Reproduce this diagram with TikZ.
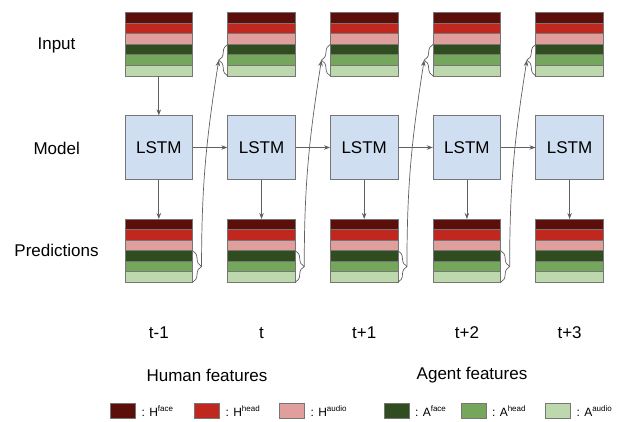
\documentclass[tikz,border=0pt]{standalone}
\usepackage{fontspec}
\setmainfont{Liberation Sans}
\usepackage{xcolor}
\usetikzlibrary{positioning, decorations.pathreplacing, arrows.meta}
\definecolor{hface}{HTML}{5C0F0A}
\definecolor{hhead}{HTML}{C0281F}
\definecolor{haudio}{HTML}{E09E9C}
\definecolor{aface}{HTML}{2F4D1E}
\definecolor{ahead}{HTML}{74A65B}
\definecolor{aaudio}{HTML}{BDD8AC}
\definecolor{lstmblue}{HTML}{CFDEF0}
\definecolor{edgegray}{HTML}{767676}
\definecolor{arrowgray}{HTML}{606060}

\begin{document}
\begin{tikzpicture}[x=1pt, y=1pt, font=\fontsize{17}{20}\selectfont,
    band/.style = {draw=edgegray, line width=0.8pt, minimum width=67.5pt, minimum height=10.55pt, inner sep=0pt, outer sep=0pt},
    lstm/.style = {draw=edgegray, fill=lstmblue, line width=0.8pt, minimum width=67.5pt, minimum height=63.5pt, inner sep=0pt},
    flow/.style = {draw=arrowgray, line width=0.7pt, -{Stealth[length=6pt, width=4.5pt]}},
    brc/.style = {draw=arrowgray, line width=0.7pt, decorate, decoration={brace, amplitude=9pt}},
    key/.style = {draw=edgegray, line width=0.6pt, minimum width=25pt, minimum height=15pt, inner sep=0pt},
    keytext/.style = {font=\fontsize{12}{14}\selectfont, inner sep=0pt}]
    \useasboundingbox (0,0) rectangle (620,421);

    % row labels
    \node (input) at (56.5,376) {Input};
    \node (model) at (56.7,273) {Model};
    \node (preds) at (56.5,171) {Predictions};

    % one column per time step
    \foreach \i/\x/\t in {1/158.8/t-1, 2/261.5/t, 3/364.2/t+1, 4/466.9/t+2, 5/569.6/t+3} {
        \foreach \c [count=\k] in {hface, hhead, haudio, aface, ahead, aaudio} {
            \node [band, fill=\c] (in\i-\k) at (\x, 413.575-10.55*\k) {};
            \node [band, fill=\c] (pr\i-\k) at (\x, 207.275-10.55*\k) {};
        }
        \node [lstm] (m\i) at (\x, 273.5) {LSTM};
        \node (time\i) at (\x, 88) {\t};
        \draw [flow] (m\i) -- (pr\i-1);
    }
    \draw [flow] (in1-6) -- (m1);
    \foreach \i [evaluate=\i as \j using int(\i+1)] in {1,...,4} {
        \draw [flow] (m\i) -- (m\j);
        \draw [brc] (pr\i-4.north east) -- (pr\i-6.south east);
        \draw [brc] (in\j-6.south west) -- (in\j-4.north west);
        \coordinate (pb\i) at ([xshift=9pt]pr\i-5.east);
        \coordinate (ib\j) at ([xshift=-9pt]in\j-5.west);
        \draw [flow] (pb\i) to[out=90, in=261] (ib\j);
    }

    % legend
    \node (human) at (207,46) {Human features};
    \node (agent) at (472,46) {Agent features};
    \node [key, fill=hface] (k1) at (123,10) {};
    \node [key, fill=hhead] (k2) at (207,10) {};
    \node [key, fill=haudio] (k3) at (292,10) {};
    \node [key, fill=aface] (k4) at (396.5,10) {};
    \node [key, fill=ahead] (k5) at (473.5,10) {};
    \node [key, fill=aaudio] (k6) at (558,10) {};
    \node [keytext, right=5.5pt of k1] (kt1) {: H\textsuperscript{face}};
    \node [keytext, right=5.5pt of k2] (kt2) {: H\textsuperscript{head}};
    \node [keytext, right=5.5pt of k3] (kt3) {: H\textsuperscript{audio}};
    \node [keytext, right=5.5pt of k4] (kt4) {: A\textsuperscript{face}};
    \node [keytext, right=5.5pt of k5] (kt5) {: A\textsuperscript{head}};
    \node [keytext, right=5.5pt of k6] (kt6) {: A\textsuperscript{audio}};
\end{tikzpicture}
\end{document}
